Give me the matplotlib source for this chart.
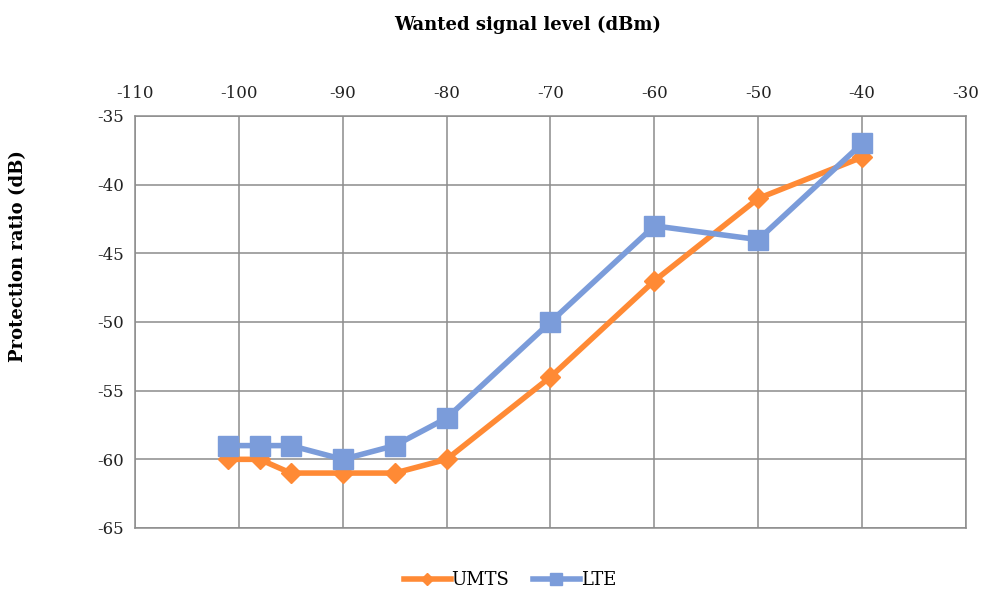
import matplotlib
matplotlib.use("Agg")
import matplotlib.pyplot as plt

plt.rcParams["font.family"] = ["DejaVu Serif"]
plt.rcParams["axes.unicode_minus"] = False

# wanted signal level (dBm) and protection ratio (dB)
level = [-101, -98, -95, -90, -85, -80, -70, -60, -50, -40]
umts = [-60, -60, -61, -61, -61, -60, -54, -47, -41, -38]
lte = [-59, -59, -59, -60, -59, -57, -50, -43, -44, -37]

ORANGE = "#ff8a35"
BLUE = "#7b9cda"
GRID = "#8c8c8c"

fig = plt.figure(figsize=(9.81, 5.90), dpi=100)
ax = fig.add_axes([135 / 981, 62 / 590, 831 / 981, 412 / 590])

ax.plot(level, umts, color=ORANGE, lw=4, marker="D", ms=10, label="UMTS", zorder=3)
ax.plot(level, lte, color=BLUE, lw=4, marker="s", ms=14, label="LTE", zorder=3)

ax.set_xlim(-110, -30)
ax.set_ylim(-65, -35)
ax.set_xticks(range(-110, -29, 10))
ax.set_yticks(range(-65, -34, 5))
ax.xaxis.tick_top()
ax.tick_params(axis="both", length=0, labelsize=12, colors="#222222")
ax.tick_params(axis="x", pad=10)
ax.tick_params(axis="y", pad=8)
ax.grid(True, color=GRID, lw=1.1)
ax.set_axisbelow(True)
for s in ax.spines.values():
    s.set_color(GRID)
    s.set_linewidth(1.1)

fig.text(528 / 981, 1 - 25 / 590, "Wanted signal level (dBm)", ha="center", va="center",
         fontsize=13, fontweight="bold")
fig.text(18 / 981, 1 - 256 / 590, "Protection ratio (dB)", ha="center", va="center",
         rotation=90, fontsize=13, fontweight="bold")

fig.legend(loc="center", bbox_to_anchor=(510 / 981, 1 - 580 / 590), ncol=2, frameon=False,
           fontsize=13, handlelength=2.6, columnspacing=1.3, handletextpad=0.05,
           markerscale=0.6)

fig.savefig("out.png", dpi=100)
